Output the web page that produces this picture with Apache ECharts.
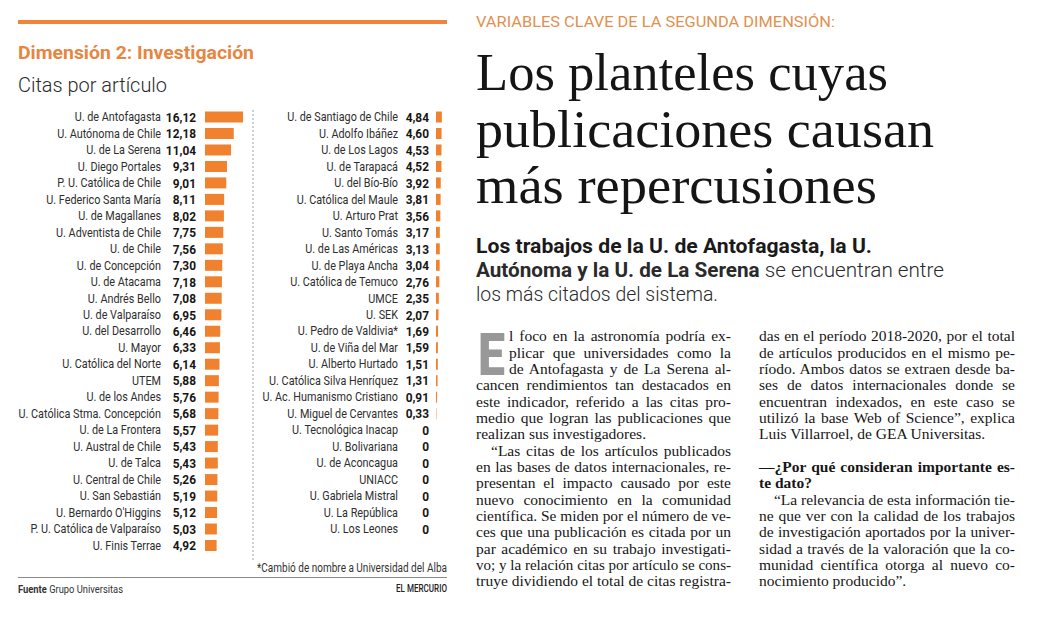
<!DOCTYPE html>
<html><head><meta charset="utf-8">
<script src="https://cdn.jsdelivr.net/npm/echarts/dist/echarts.min.js"></script>
<style>
html,body{margin:0;padding:0;width:1037px;height:619px;overflow:hidden;background:#fff;}
.t{position:absolute;white-space:nowrap;display:inline-block;line-height:1;transform-origin:0 50%;}
.serif{font-family:'Liberation Serif','DejaVu Serif',serif;}
.sans{font-family:Roboto,'Liberation Sans',sans-serif;}
.rule{position:absolute;}
#chart{position:absolute;left:0;top:0;height:619px;transform-origin:0 0;}
b{font-weight:700;}
</style></head>
<body>
<div class="rule" style="left:18px;top:20px;width:429px;height:4px;background:#F0843A;"></div>
<div class="rule" style="left:18px;top:577px;width:429px;height:1px;background:#8a8a8a;"></div>
<div id="chart"></div>
<script>
// ---- data ----
const leftNames = ['U. de Antofagasta','U. Autónoma de Chile','U. de La Serena','U. Diego Portales','P. U. Católica de Chile','U. Federico Santa María','U. de Magallanes','U. Adventista de Chile','U. de Chile','U. de Concepción','U. de Atacama','U. Andrés Bello','U. de Valparaíso','U. del Desarrollo','U. Mayor','U. Católica del Norte','UTEM','U. de los Andes','U. Católica Stma. Concepción','U. de La Frontera','U. Austral de Chile','U. de Talca','U. Central de Chile','U. San Sebastián',"U. Bernardo O'Higgins",'P. U. Católica de Valparaíso','U. Finis Terrae'];
const leftValues = [16.12,12.18,11.04,9.31,9.01,8.11,8.02,7.75,7.56,7.30,7.18,7.08,6.95,6.46,6.33,6.14,5.88,5.76,5.68,5.57,5.43,5.43,5.26,5.19,5.12,5.03,4.92];
const rightNames = ['U. de Santiago de Chile','U. Adolfo Ibáñez','U. de Los Lagos','U. de Tarapacá','U. del Bío-Bío','U. Católica del Maule','U. Arturo Prat','U. Santo Tomás','U. de Las Américas','U. de Playa Ancha','U. Católica de Temuco','UMCE','U. SEK','U. Pedro de Valdivia*','U. de Viña del Mar','U. Alberto Hurtado','U. Católica Silva Henríquez','U. Ac. Humanismo Cristiano','U. Miguel de Cervantes','U. Tecnológica Inacap','U. Bolivariana','U. de Aconcagua','UNIACC','U. Gabriela Mistral','U. La República','U. Los Leones'];
const rightValues = [4.84,4.60,4.53,4.52,3.92,3.81,3.56,3.17,3.13,3.04,2.76,2.35,2.07,1.69,1.59,1.51,1.31,0.91,0.33,0,0,0,0,0,0,0];

// ---- text elements ----
const texts = [];
function T(html, x, top, fs, o){ texts.push(Object.assign({html, x, top, fs}, o)); }
const ORANGE_T = '#E8853F';
T('VARIABLES CLAVE DE LA SEGUNDA DIMENSIÓN:', 476, 14.5, 15, {fam:'sans', w:400, c:'#DF9150', fit:359});
T('Los planteles cuyas', 476, 45.6, 53, {fam:'serif', w:400, c:'#151515', fit:412});
T('publicaciones causan', 476, 102.6, 53, {fam:'serif', w:400, c:'#151515', fit:458});
T('más repercusiones', 476, 158.6, 53, {fam:'serif', w:400, c:'#151515', fit:401});
T('Los trabajos de la U. de Antofagasta, la U.', 476, 235.5, 21, {fam:'sans', w:700, c:'#1a1a1a', fit:396});
T('<b>Autónoma y la U. de La Serena</b> se encuentran entre', 476, 259.5, 21, {fam:'sans', w:300, c:'#2a2a2a', fit:468});
T('los más citados del sistema.', 476, 283.5, 21, {fam:'sans', w:300, c:'#2a2a2a', fit:242});

T('Dimensión 2: Investigación', 18, 42.5, 19, {fam:'sans', w:700, c:ORANGE_T, fit:236});
T('Citas por artículo', 18, 74.5, 21, {fam:'sans', w:300, c:'#2a2a2a', fit:149});
T('*Cambió de nombre a Universidad del Alba', 257, 562, 12, {fam:'sans', w:400, c:'#333', fit:190});
T('<b>Fuente</b> Grupo Universitas', 18, 583.5, 11, {fam:'sans', w:400, c:'#333', fit:105});
T('EL MERCURIO', 396, 584, 10, {fam:'sans', w:500, c:'#222', fit:51});

// drop cap
T('E', 478, 333.6, 59, {fam:'sans', w:900, c:'#989898', fit:27, lh:0.72});

// body columns
const col1 = [
 ['l foco en la astronomía podría ex-', 1, 1],
 ['plicar que universidades como la', 1, 1],
 ['de Antofagasta y de La Serena al-', 1, 1],
 ['cancen rendimientos tan destacados en', 0, 1],
 ['este indicador, referido a las citas pro-', 0, 1],
 ['medio que logran las publicaciones que', 0, 1],
 ['realizan sus investigadores.', 0, 0],
 ['“Las citas de los artículos publicados', 2, 1],
 ['en las bases de datos internacionales, re-', 0, 1],
 ['presentan el impacto causado por este', 0, 1],
 ['nuevo conocimiento en la comunidad', 0, 1],
 ['científica. Se miden por el número de ve-', 0, 1],
 ['ces que una publicación es citada por un', 0, 1],
 ['par académico en su trabajo investigati-', 0, 1],
 ['vo; y la relación citas por artículo se cons-', 0, 1],
 ['truye dividiendo el total de citas registra-', 0, 1]
];
const col2 = [
 ['das en el período 2018-2020, por el total', 0, 1],
 ['de artículos producidos en el mismo pe-', 0, 1],
 ['ríodo. Ambos datos se extraen desde ba-', 0, 1],
 ['ses de datos internacionales donde se', 0, 1],
 ['encuentran indexados, en este caso se', 0, 1],
 ['utilizó la base Web of Science”, explica', 0, 1],
 ['Luis Villarroel, de GEA Universitas.', 0, 0],
 null,
 ['<b>—¿Por qué consideran importante es-</b>', 0, 1],
 ['<b>te dato?</b>', 0, 0],
 ['“La relevancia de esta información tie-', 2, 1],
 ['ne que ver con la calidad de los trabajos', 0, 1],
 ['de investigación aportados por la univer-', 0, 1],
 ['sidad a través de la valoración que la co-', 0, 1],
 ['munidad científica otorga al nuevo co-', 0, 1],
 ['nocimiento producido”.', 0, 0]
];
const LINE0 = 337, LSTEP = 16.35, BFS = 15.5;
function addCol(lines, x0, x1){
  lines.forEach((l, i) => {
    if(!l) return;
    let x = x0;
    if(l[1] === 1) x = 509;
    if(l[1] === 2) x = x0 + 15;
    T(l[0], x, LINE0 + i*LSTEP - 8.8, BFS, {fam:'serif', w:400, c:'#161616', just: l[2] ? (x1 - x) : 0, max: x1 - x});
  });
}
addCol(col1, 476, 731);
addCol(col2, 759, 1015);

const els = texts.map(o => {
  const d = document.createElement('span');
  d.className = 't ' + o.fam;
  d.innerHTML = o.html;
  d.style.left = o.x + 'px';
  d.style.top = o.top + 'px';
  d.style.fontSize = o.fs + 'px';
  d.style.fontWeight = o.w;
  d.style.color = o.c;
  if(o.lh) d.style.lineHeight = o.lh;
  document.body.appendChild(d);
  return [d, o];
});
function layout(){
  els.forEach(([d, o]) => {
    d.style.transform = 'none';
    d.style.wordSpacing = '0px';
    const w = d.getBoundingClientRect().width;
    if(o.fit){
      d.style.transform = 'scaleX(' + (o.fit / w) + ')';
    } else if(o.just){
      const n = (d.textContent.match(/ /g) || []).length;
      if(w <= o.just && n > 0){
        d.style.wordSpacing = ((o.just - w) / n) + 'px';
      } else if(w > o.just){
        d.style.transform = 'scaleX(' + (o.just / w) + ')';
      }
    } else if(o.max && w > o.max){
      d.style.transform = 'scaleX(' + (o.max / w) + ')';
    }
  });
}
layout();
if(document.fonts && document.fonts.ready) document.fonts.ready.then(layout);

// ---- chart ----
const S = 0.88;               // horizontal condensing of the chart panel
const X = v => v / S;
const ROW = 16.48;
const TOP = 117 - ROW / 2;
const BAR = '#F0822F';
const cdiv = document.getElementById('chart');
cdiv.style.width = X(460) + 'px';
cdiv.style.transform = 'scaleX(' + S + ')';
const chart = echarts.init(cdiv, null, {renderer: 'svg'});
const fmt = v => v === 0 ? '0' : v.toFixed(2).replace('.', ',');
function yAx(idx, names, vals, margin, vw){
  return {
    gridIndex: idx, type: 'category', data: names, inverse: true,
    axisLine: {show: false}, axisTick: {show: false}, splitLine: {show: false},
    axisLabel: {
      interval: 0, margin: X(margin),
      formatter: (v, i) => '{n|' + v + '}{v|' + fmt(vals[i]) + '}',
      rich: {
        n: {fontFamily: 'Roboto', fontSize: 12.3, fontWeight: 400, color: '#2e2e2e'},
        v: {fontFamily: 'Roboto', fontSize: 13.5, fontWeight: 700, color: '#161616', width: X(vw), align: 'right'}
      }
    }
  };
}
chart.setOption({
  animation: false,
  grid: [
    {left: X(205), top: TOP, width: X(47.2), height: ROW * leftNames.length},
    {left: X(436), top: TOP, width: X(47.2), height: ROW * rightNames.length}
  ],
  xAxis: [
    {gridIndex: 0, type: 'value', min: 0, max: 20, show: false},
    {gridIndex: 1, type: 'value', min: 0, max: 20, show: false}
  ],
  yAxis: [
    yAx(0, leftNames, leftValues, 9, 35),
    yAx(1, rightNames, rightValues, 7, 31)
  ],
  series: [
    {type: 'bar', xAxisIndex: 0, yAxisIndex: 0, data: leftValues, barWidth: 11, itemStyle: {color: BAR}, silent: true},
    {type: 'bar', xAxisIndex: 1, yAxisIndex: 1, data: rightValues, barWidth: 11, itemStyle: {color: BAR}, silent: true}
  ],
  graphic: [{
    type: 'line', silent: true,
    shape: {x1: X(253), y1: 110, x2: X(253), y2: 560},
    style: {stroke: '#9a9a9a', lineWidth: 1, lineDash: [2, 2]}
  }]
});
</script>
</body></html>
